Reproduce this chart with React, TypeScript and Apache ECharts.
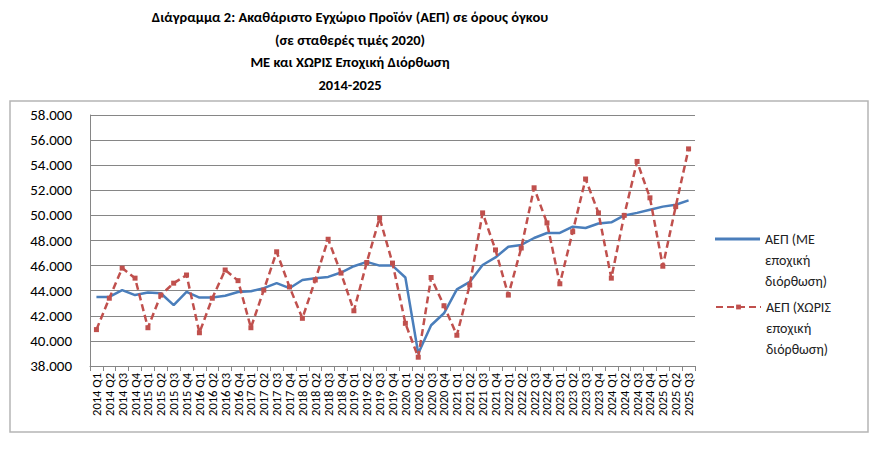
import { useEffect, useRef } from "react";
import * as echarts from "echarts";

// κατηγορίες (τρίμηνα)
const categories = [
  "2014 Q1", "2014 Q2", "2014 Q3", "2014 Q4",
  "2015 Q1", "2015 Q2", "2015 Q3", "2015 Q4",
  "2016 Q1", "2016 Q2", "2016 Q3", "2016 Q4",
  "2017 Q1", "2017 Q2", "2017 Q3", "2017 Q4",
  "2018 Q1", "2018 Q2", "2018 Q3", "2018 Q4",
  "2019 Q1", "2019 Q2", "2019 Q3", "2019 Q4",
  "2020 Q1", "2020 Q2", "2020 Q3", "2020 Q4",
  "2021 Q1", "2021 Q2", "2021 Q3", "2021 Q4",
  "2022 Q1", "2022 Q2", "2022 Q3", "2022 Q4",
  "2023 Q1", "2023 Q2", "2023 Q3", "2023 Q4",
  "2024 Q1", "2024 Q2", "2024 Q3", "2024 Q4",
  "2025 Q1", "2025 Q2", "2025 Q3",
];

// ΑΕΠ με εποχική διόρθωση (εκατ. ευρώ)
const gdpAdjusted = [
  43500, 43500, 44050, 43650,
  43850, 43800, 42850, 43900,
  43450, 43450, 43600, 43900,
  43950, 44200, 44600, 44200,
  44850, 45000, 45100, 45450,
  45950, 46300, 46000, 46000,
  45050, 39000, 41250, 42200,
  44100, 44700, 46050, 46650,
  47500, 47650, 48200, 48600,
  48600, 49100, 49000, 49350,
  49450, 50000, 50200, 50450,
  50700, 50850, 51200,
];

// ΑΕΠ χωρίς εποχική διόρθωση
const gdpRaw = [
  40900, 43400, 45800, 45000,
  41050, 43650, 44600, 45250,
  40650, 43400, 45650, 44800,
  41050, 44050, 47100, 44300,
  41800, 44850, 48100, 45400,
  42400, 46250, 49800, 46200,
  41400, 38700, 45050, 42800,
  40450, 44450, 50200, 47250,
  43650, 47400, 52200, 49400,
  44550, 48700, 52900, 50200,
  45000, 50000, 54300, 51400,
  45950, 50700, 55300,
];

const seriesNames = [
  "ΑΕΠ (ΜΕ εποχική διόρθωση)",
  "ΑΕΠ (ΧΩΡΙΣ εποχική διόρθωση)",
];

const titleLines = [
  "Διάγραμμα 2: Ακαθάριστο Εγχώριο Προϊόν (ΑΕΠ) σε όρους όγκου",
  "(σε σταθερές τιμές 2020)",
  "ΜΕ και ΧΩΡΙΣ Εποχική Διόρθωση",
  "2014-2025",
];

const FONT = '"Carlito", "Liberation Sans Narrow", "DejaVu Sans Condensed", "Liberation Sans", sans-serif';

export default function App() {
  const chartRef = useRef<HTMLDivElement>(null);

  useEffect(() => {
    if (!chartRef.current) return;
    document.body.style.margin = "0";

    const chart = echarts.init(chartRef.current, null, { renderer: "svg" });

    // δύο κενές γραμμές πάνω ώστε η πρώτη γραμμή να στέκεται δίπλα στο σύμβολο
    const legendText = (name: string) =>
      "\n\n" + name.replace(" εποχική ", "\nεποχική\n");

    const legendBase = {
      orient: "vertical" as const,
      left: 715,
      padding: 0,
      itemWidth: 45,
      formatter: legendText,
      textStyle: {
        fontFamily: FONT,
        fontSize: 14,
        color: "#222",
        lineHeight: 21,
      },
    };

    const option: echarts.EChartsOption = {
      animation: false,
      backgroundColor: "#fff",
      textStyle: { fontFamily: FONT },
      title: {
        text: titleLines.join("\n"),
        left: 345,
        top: 1,
        textAlign: "center",
        textStyle: {
          fontFamily: FONT,
          fontSize: 14.5,
          fontWeight: "bold",
          color: "#000",
          lineHeight: 22.5,
        },
      },
      graphic: [
        {
          type: "rect",
          shape: { x: 10, y: 101, width: 858, height: 331 },
          style: { fill: "none", stroke: "#b5b5b5", lineWidth: 1.5 },
          silent: true,
        },
      ],
      legend: [
        {
          ...legendBase,
          data: [{ name: seriesNames[0], icon: "rect" }],
          itemHeight: 3,
          top: 239 - 52.5,
        },
        {
          ...legendBase,
          data: [seriesNames[1]],
          itemHeight: 6,
          top: 307 - 52.5,
        },
      ],
      grid: { left: 90, right: 185, top: 115, bottom: 86 },
      xAxis: {
        type: "category",
        data: categories,
        boundaryGap: true,
        axisLine: { lineStyle: { color: "#868686", width: 1 } },
        axisTick: { show: true, interval: 0, length: 5, lineStyle: { color: "#868686" } },
        axisLabel: {
          interval: 0,
          rotate: 90,
          fontSize: 12.5,
          color: "#000",
          margin: 7,
          fontFamily: FONT,
        },
      },
      yAxis: {
        type: "value",
        min: 38000,
        max: 58000,
        interval: 2000,
        axisLine: { show: true, lineStyle: { color: "#868686", width: 1 } },
        axisTick: { show: false },
        splitLine: { lineStyle: { color: "#868686", width: 1 } },
        axisLabel: {
          fontSize: 15,
          color: "#000",
          margin: 18,
          fontFamily: FONT,
          formatter: (v: number) => (v / 1000).toFixed(3),
        },
      },
      series: [
        {
          name: seriesNames[0],
          type: "line",
          data: gdpAdjusted,
          symbol: "none",
          lineStyle: { color: "#4a7ebb", width: 2.5 },
          itemStyle: { color: "#4a7ebb" },
        },
        {
          name: seriesNames[1],
          type: "line",
          data: gdpRaw,
          symbol: "rect",
          symbolSize: 5,
          lineStyle: { color: "#c0504d", width: 2.5, type: [7, 4] },
          itemStyle: { color: "#c0504d" },
        },
      ],
    };
    chart.setOption(option);

    return () => {
      chart.dispose();
    };
  }, []);

  return <div ref={chartRef} style={{ width: 880, height: 452 }} />;
}
